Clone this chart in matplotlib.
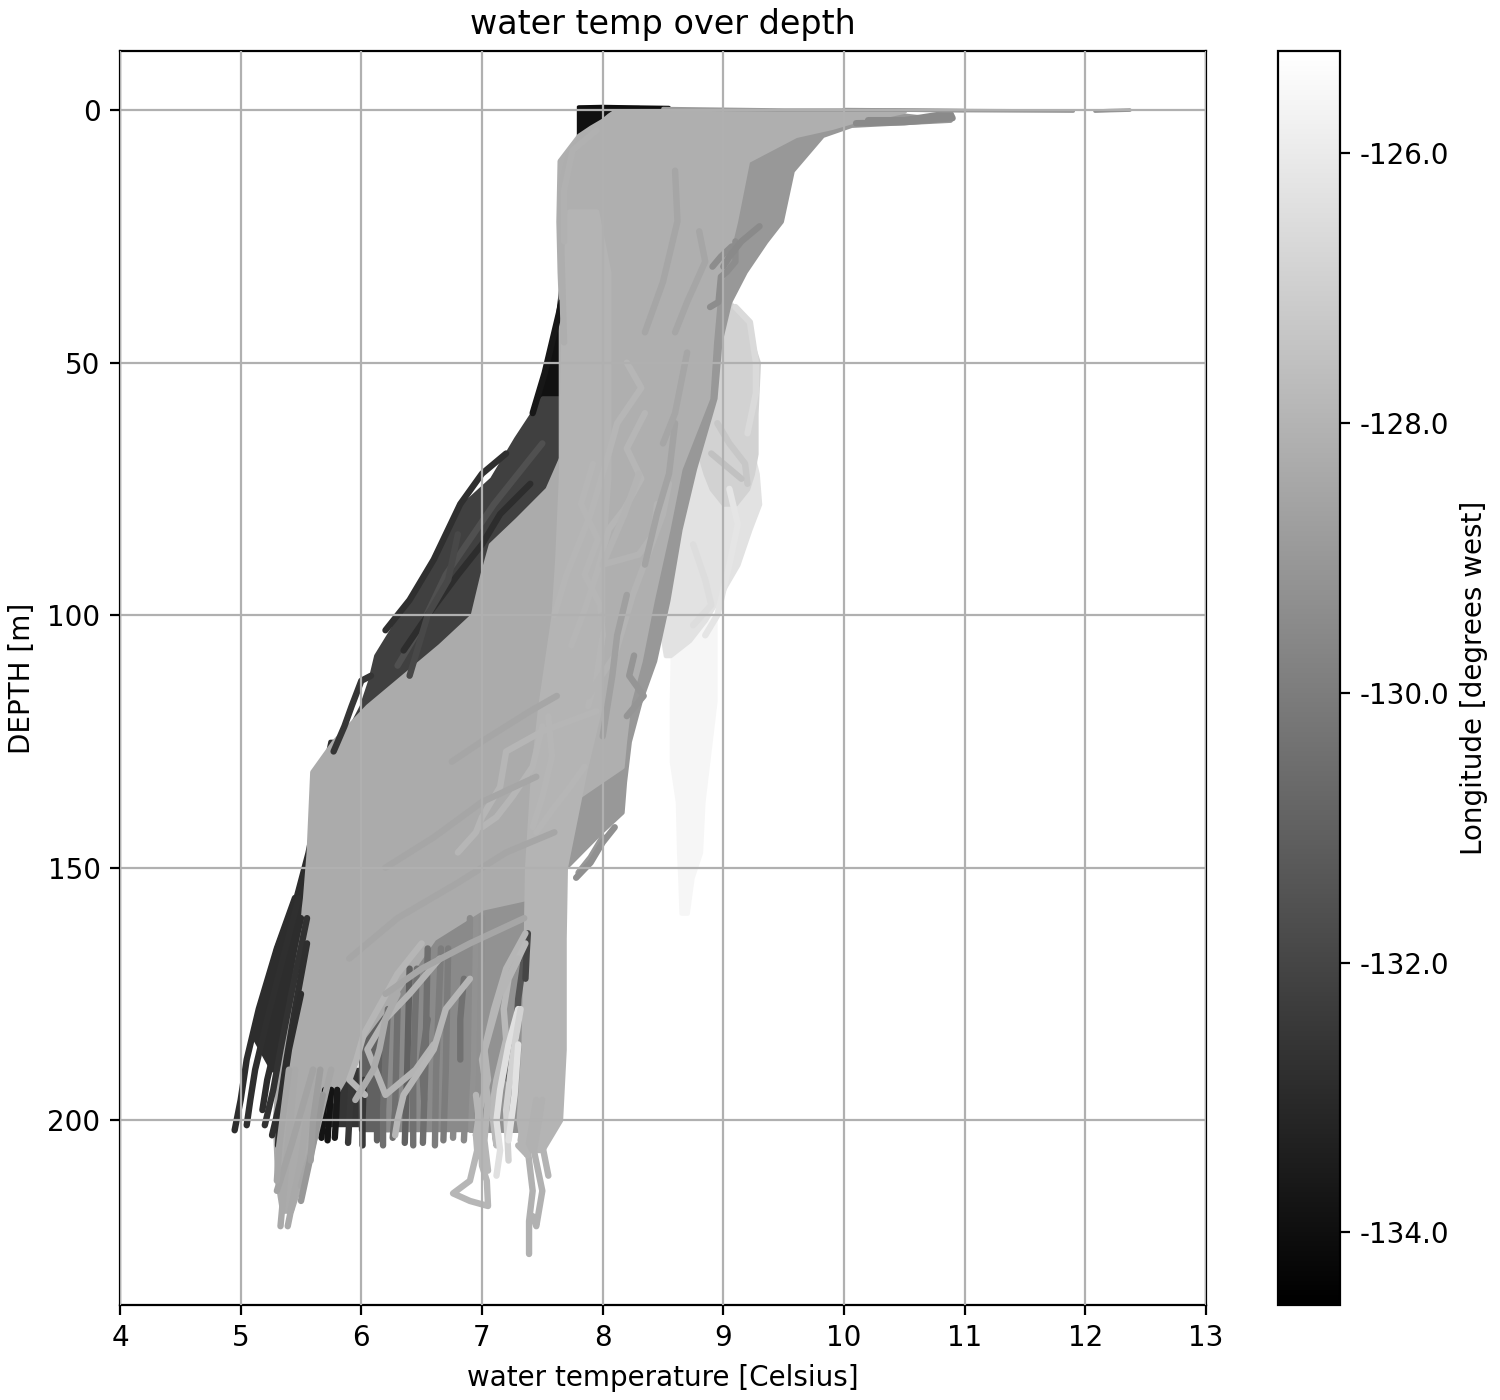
import matplotlib
matplotlib.use("Agg")
import matplotlib.pyplot as plt
from matplotlib.colors import Normalize
from matplotlib.cm import ScalarMappable

title = "water temp over depth"
xlabel = "water temperature [Celsius]"
ylabel = "DEPTH [m]"
cbar_label = "Longitude [degrees west]"
x_ticks = [4, 5, 6, 7, 8, 9, 10, 11, 12, 13]
y_ticks = [0, 50, 100, 150, 200]
cbar_ticks = [-134.0, -132.0, -130.0, -128.0, -126.0]
lon_min, lon_max = -134.54, -125.24

# Envelope of groups of casts: (longitude, depth, coldest temp, warmest temp)
far_east = (-125.6, [100, 105, 117, 129, 137, 147, 152, 159],
            [8.6, 8.58, 8.57, 8.57, 8.62, 8.63, 8.64, 8.65],
            [8.93, 8.93, 8.93, 8.87, 8.83, 8.81, 8.74, 8.70])
east_b = (-126.3, [62, 68, 72, 78, 83, 90, 97, 101, 105, 108],
          [8.9, 8.8, 8.7, 8.6, 8.55, 8.5, 8.5, 8.5, 8.5, 8.52],
          [9.05, 9.24, 9.28, 9.30, 9.22, 9.12, 8.95, 8.85, 8.72, 8.56])
east_c = (-126.9, [38, 42, 50, 60, 68, 72, 75, 78],
          [8.85, 8.85, 8.85, 8.8, 8.8, 8.85, 8.9, 9.0],
          [9.05, 9.18, 9.29, 9.27, 9.27, 9.24, 9.2, 9.1])
top_black = (-133.9, [-0.5, 8, 26, 34, 42, 50, 57, 64], [7.80, 7.80, 7.78, 7.66, 7.62, 7.55, 7.46, 7.36],
             [8.3, 8.3, 8.2, 8.0, 8.0, 8.0, 8.0, 8.0])
dark_upper = (-132.2, [57, 65, 73, 78, 89, 101, 108, 113, 118, 125, 133],
              [7.50, 7.28, 7.08, 6.85, 6.62, 6.30, 6.12, 6.07, 6.0, 5.85, 5.66],
              [7.68, 7.68, 7.68, 7.6, 7.4, 7.2, 6.8, 6.5, 6.3, 6.2, 6.0])
dark_lower = (-132.9, [125, 147, 156, 166, 176, 184, 190], [5.74, 5.55, 5.45, 5.29, 5.20, 5.12, 5.26],
              [6.0, 5.9, 5.8, 5.6, 5.42, 5.42, 5.40])
deep_a = (-132.6, [190, 196, 201], [5.62, 5.62, 5.62], [6.05, 6.05, 6.05])
deep_b = (-131.0, [178, 190, 202], [6.0, 6.0, 6.0], [6.25, 6.25, 6.25])
deep_c = (-129.5, [160, 180, 202], [6.2, 6.2, 6.2], [7.0, 7.0, 7.0])
deep_d = (-129.2, [146, 180, 202], [6.9, 6.9, 6.9], [7.42, 7.42, 7.38])
medium = (-129.0, [0.5, 2, 3, 5, 12, 22, 26, 32, 38, 46, 57, 71, 83, 97, 109, 117, 125, 133, 139, 143, 150, 153],
          [8.3, 8.3, 8.2, 8.1, 7.8, 7.7, 7.7, 7.7, 7.7, 7.7, 7.7, 7.7, 7.7, 7.6, 7.6, 7.6, 7.6, 7.6, 7.6, 7.6, 7.6, 7.6],
          [10.3, 10.88, 10.06, 9.82, 9.57, 9.48, 9.35, 9.18, 9.05, 8.97, 8.93, 8.76, 8.64, 8.54, 8.43, 8.31, 8.22, 8.18, 8.16, 7.98, 7.69, 7.60])
fan = (-128.15, [0.2, 1, 2, 3.4, 5, 10, 22, 32, 38, 46, 57, 71, 83, 97, 109, 117, 125, 130, 137],
       [8.1, 8.05, 8.0, 7.9, 7.8, 7.64, 7.63, 7.64, 7.65, 7.65, 7.65, 7.65, 7.65, 7.65, 7.65, 7.65, 7.65, 7.65, 7.65],
       [10.5, 10.35, 10.1, 9.9, 9.6, 9.2, 9.1, 9.0, 8.93, 8.9, 8.87, 8.64, 8.54, 8.41, 8.31, 8.22, 8.18, 8.16, 7.73])
fan_lower = (-128.3, [69, 75, 81, 86, 92, 100, 106, 113, 118, 125, 131, 147, 156, 158, 164, 176, 184, 191, 200, 212, 218],
             [7.65, 7.54, 7.29, 7.07, 7.00, 6.92, 6.65, 6.30, 6.05, 5.77, 5.59, 5.56, 5.53, 5.52, 5.50, 5.41, 5.35, 5.31, 5.28, 5.30, 5.34],
             [7.7, 7.7, 7.7, 7.7, 7.7, 7.7, 7.7, 7.7, 7.7, 7.7, 7.7, 7.65, 7.38, 7.0, 6.6, 6.25, 6.0, 5.88, 5.66, 5.5, 5.42])
column = (-128.0, [20, 32, 57, 73, 89, 100, 118, 131, 150, 164, 186, 200, 206],
          [7.72, 7.68, 7.66, 7.65, 7.62, 7.59, 7.48, 7.42, 7.37, 7.36, 7.34, 7.30, 7.34],
          [7.95, 8.05, 8.05, 8.05, 8.0, 8.0, 7.98, 7.85, 7.69, 7.68, 7.68, 7.65, 7.5])
bands = [far_east, east_b, east_c, top_black, dark_upper, dark_lower, deep_a, deep_b,
         deep_c, deep_d, medium, fan, fan_lower, column]

# Single casts: (longitude, temps, depths)
casts = [
    # cold dark tails
    (-132.9, [5.45, 5.3, 5.15, 5.05, 5.0, 4.95], [156, 166, 178, 188, 196, 202]),
    (-132.8, [5.48, 5.35, 5.22, 5.12, 5.08, 5.05], [156, 168, 180, 190, 196, 201]),
    (-132.9, [5.5, 5.38, 5.3, 5.22, 5.18], [160, 172, 184, 192, 198]),
    (-132.7, [5.55, 5.42, 5.33, 5.27, 5.2], [160, 175, 186, 194, 201]),
    (-132.8, [5.55, 5.45, 5.38, 5.33, 5.26], [165, 178, 188, 196, 203]),
    (-132.9, [5.5, 5.4, 5.35, 5.32, 5.31], [175, 186, 194, 200, 205]),
    (-132.6, [6.08, 6.0, 5.92, 5.86, 5.77], [112, 113, 118, 122, 127]),
    (-132.8, [7.2, 7.0, 6.82, 6.6, 6.4, 6.2], [68, 72, 78, 89, 97, 103]),
    (-131.6, [7.5, 7.3, 7.1, 6.9, 6.7, 6.5, 6.3], [66, 72, 78, 85, 92, 102, 110]),
    (-132.9, [7.4, 7.15, 7.0, 6.8, 6.55, 6.35], [74, 80, 86, 92, 100, 107]),
    (-131.9, [6.8, 6.72, 6.55, 6.4], [84, 93, 100, 112]),
    (-133.7, [7.66, 7.6, 7.52, 7.42], [38, 44, 52, 60]),
    # bottom ends of the western deep casts
    (-133.8, [5.70, 5.68, 5.67], [194, 200, 203.5]),
    (-133.8, [5.75, 5.73, 5.72], [194, 200, 204]),
    (-133.6, [5.80, 5.79, 5.78], [194, 200, 203.5]),
    (-132.5, [5.92, 5.9, 5.89], [192, 200, 204.5]),
    (-132.5, [6.02, 6.01, 6.01], [192, 200, 205]),
    (-131.0, [6.14, 6.13, 6.13], [184, 198, 204]),
    (-130.5, [6.22, 6.18, 6.18], [178, 198, 205]),
    (-130.5, [6.3, 6.28, 6.26], [178, 198, 203.5]),
    (-131.0, [6.4, 6.38, 6.36], [170, 190, 204.5]),
    (-130.4, [6.46, 6.43, 6.43], [170, 190, 205]),
    (-130.5, [6.55, 6.53, 6.51], [166, 190, 204.5]),
    (-130.0, [6.66, 6.62, 6.61], [166, 190, 205]),
    (-130.0, [6.72, 6.7, 6.68], [166, 190, 204]),
    (-129.5, [6.8, 6.78, 6.76], [166, 190, 203.5]),
    (-129.5, [6.9, 6.88, 6.85], [160, 190, 204]),
    (-129.3, [7.0, 6.98, 6.95], [160, 190, 203]),
    (-130.4, [6.85, 6.82, 6.82], [172, 180, 188]),
    (-130.5, [6.55, 6.5, 6.52], [180, 188, 196]),
    (-131.4, [7.36, 7.3, 7.28, 7.22], [166, 176, 184, 192]),
    (-132.0, [7.38, 7.37, 7.36], [163, 167, 172]),
    # cool grey tails under 200 m
    (-128.4, [5.45, 5.38, 5.33], [190, 208, 221]),
    (-128.4, [5.6, 5.5, 5.39], [190, 208, 221]),
    (-128.6, [5.6, 5.42, 5.3], [190, 205, 214]),
    (-128.5, [5.75, 5.62, 5.5], [190, 203, 213]),
    (-129.0, [5.68, 5.6, 5.5], [195, 205, 216]),
    (-128.8, [5.66, 5.6, 5.58], [190, 200, 208]),
    (-128.5, [5.4, 5.32, 5.3], [190, 205, 212]),
    # wandering casts around 7 degrees, deep end
    (-127.9, [7.36, 7.2, 7.1, 7.02, 7.05, 6.98, 6.95, 6.96, 6.9, 6.76, 6.9, 7.05, 7.04, 7.0, 6.99, 6.95],
     [163, 170, 178, 186, 192, 198, 203, 206, 212, 214.5, 216, 217, 212, 209, 203, 195]),
    (-127.8, [7.36, 7.22, 7.18, 7.2, 7.12, 7.08, 7.12, 7.1], [165, 172, 178, 184, 192, 198, 205, 200]),
    (-127.9, [7.3, 7.15, 7.0, 7.05, 7.02, 7.05], [168, 175, 188, 196, 204, 210]),
    (-126.4, [7.3, 7.22, 7.15, 7.12, 7.15, 7.12], [178, 185, 194, 200, 206, 211]),
    (-126.9, [7.32, 7.25, 7.2, 7.22], [178, 188, 198, 208]),
    (-126.3, [7.3, 7.27, 7.22], [185, 195, 204]),
    (-128.1, [7.45, 7.38, 7.42, 7.39, 7.39], [196, 206, 214, 220, 226.5]),
    (-128.1, [7.5, 7.43, 7.5, 7.45, 7.42], [196, 206, 214, 221, 219]),
    (-128.0, [7.55, 7.5, 7.55], [196, 205, 211]),
    (-128.0, [7.4, 7.36, 7.32, 7.38, 7.3], [190, 198, 204, 207, 205]),
    # light casts crossing the deep grey area
    (-127.9, [6.5, 6.3, 6.02, 5.96, 5.9, 6.03], [165, 171, 183, 188, 192, 195]),
    (-128.0, [6.65, 6.4, 6.2, 6.05, 6.2, 6.45, 6.6], [168, 175, 180, 186, 195, 190, 185]),
    (-127.9, [6.9, 6.7, 6.6, 6.35, 6.3, 6.28], [172, 178, 186, 195, 200, 203]),
    (-128.3, [6.3, 6.2, 6.15, 6.1, 5.95], [175, 180, 186, 190, 196]),
    # shaping the cold edge near the top
    (-128.2, [7.85, 7.72, 7.67, 7.65, 7.66, 7.67, 7.68], [5, 9, 14, 22, 30, 38, 46]),
    (-128.1, [7.95, 7.75, 7.68, 7.68], [4, 8, 16, 26]),
    # shallow loose ends on the warm side
    (-129.4, [9.10, 9.10, 9.03, 8.98, 8.96, 8.89], [26, 30, 32, 33, 38, 39]),
    (-129.4, [9.07, 8.98, 8.91], [27, 29, 31]),
    (-129.5, [9.3, 9.15, 9.05, 9.0], [23, 26, 29, 31]),
    (-129.5, [10.2, 10.5, 10.88, 10.9, 10.5, 10.1], [2.0, 2.0, 0.6, 1.6, 2.4, 2.6]),
    (-129.0, [8.0, 7.9, 7.8], [144, 148, 151]),
    (-129.3, [8.1, 8.0, 7.9, 7.78], [142, 145, 149, 152]),
    (-129.1, [8.26, 8.22, 8.34, 8.2], [108, 112, 116, 120]),
    # lighter wandering casts over the warm flank
    (-127.9, [7.92, 7.82, 7.96, 7.85, 7.98, 8.0, 7.95, 7.88], [70, 78, 85, 92, 98, 104, 112, 118]),
    (-127.9, [8.35, 8.2, 8.32, 8.18, 8.05, 7.96, 7.85, 7.74], [60, 67, 73, 79, 83, 91, 99, 106]),
    (-127.9, [8.2, 8.32, 8.12, 8.05, 7.9, 7.7, 7.6], [50, 55, 62, 68, 80, 92, 100]),
    (-128.0, [8.0, 7.92, 7.88, 8.1, 8.25, 8.5, 8.55], [100, 106, 116, 108, 96, 80, 74]),
    (-128.0, [8.3, 8.18, 8.0, 8.3, 8.42, 8.45], [72, 80, 90, 88, 84, 78]),
    (-127.9, [7.95, 7.5, 7.2, 7.15, 7.0, 6.95, 6.8], [119, 123, 127, 134, 140, 143, 147]),
    (-127.9, [7.5, 7.42, 7.25, 7.12, 7.0], [122, 130, 136, 140, 142]),
    (-127.9, [7.55, 7.58, 7.5, 7.42], [120, 128, 136, 142]),
    (-127.9, [7.85, 7.7, 7.6, 7.45], [130, 135, 138, 143]),
    # faint shades in the fan
    (-128.5, [7.62, 7.4, 7.0, 6.75], [116, 119, 125, 129]),
    (-128.5, [7.45, 7.0, 6.6, 6.2], [132, 137, 144, 150]),
    (-128.5, [7.6, 7.2, 6.8, 6.3, 5.9], [143, 147, 153, 160, 168]),
    (-128.5, [7.35, 6.9, 6.5, 6.2], [160, 165, 170, 175]),
    (-128.5, [8.6, 8.62, 8.5, 8.35], [12, 22, 34, 44]),
    (-128.5, [8.8, 8.85, 8.7, 8.6], [24, 30, 38, 44]),
    (-128.6, [8.6, 8.55, 8.45, 8.35], [62, 72, 80, 90]),
    (-128.7, [8.2, 8.12, 8.08, 8.0], [96, 104, 112, 124]),
    (-128.5, [8.7, 8.6, 8.5], [48, 60, 66]),
    # easternmost loose casts
    (-126.6, [9.1, 9.22, 9.27, 9.27, 9.2], [39, 42, 50, 56, 64]),
    (-126.2, [9.05, 9.12, 9.05, 8.95, 8.85], [75, 82, 90, 100, 104]),
    (-127.3, [8.95, 9.05, 9.18, 9.2], [62, 66, 70, 74]),
    (-127.5, [8.9, 9.0, 9.1, 9.15], [68, 70, 72, 73]),
    (-126.5, [8.75, 8.85, 8.9, 8.75], [86, 93, 98, 102]),
]

# Thin sea-surface readings: (longitude, temps, depths)
surface = [
    (-134.0, [7.8, 8.0, 8.25, 8.55], [-0.6, -0.7, -0.6, -0.5]),
    (-128.9, [8.5, 9.5, 10.4, 11.0, 11.9], [-0.3, 0.0, 0.0, 0.1, 0.2]),
    (-129.0, [10.0, 11.0], [-0.1, 0.1]),
    (-129.2, [12.08, 12.2, 12.37], [0.2, 0.1, 0.0]),
]

norm = Normalize(lon_min, lon_max)
cmap = plt.get_cmap("gray")

fig = plt.figure(figsize=(7.5, 7.0), dpi=200)
ax = fig.add_axes([120 / 1500, 1 - 1305 / 1400, 1086 / 1500, 1254 / 1400])
cax = fig.add_axes([1278 / 1500, 1 - 1305 / 1400, 62 / 1500, 1254 / 1400])

for lon, depth, cold, warm in bands:
    ax.fill_betweenx(depth, cold, warm, color=cmap(norm(lon)), lw=1.6, joinstyle="round", zorder=1)
for lon, temps, depths in casts:
    ax.plot(temps, depths, color=cmap(norm(lon)), lw=2.3, solid_capstyle="round",
            solid_joinstyle="round", zorder=2)
for lon, temps, depths in surface:
    ax.plot(temps, depths, color=cmap(norm(lon)), lw=1.3, solid_capstyle="round", zorder=2)

ax.set_xlim(4, 13)
ax.set_ylim(236.6, -11.7)
ax.set_xticks(x_ticks)
ax.set_yticks(y_ticks)
ax.grid(True)
ax.set_axisbelow(False)
ax.set_title(title)
ax.set_xlabel(xlabel)
ax.set_ylabel(ylabel)

cb = fig.colorbar(ScalarMappable(norm=norm, cmap=cmap), cax=cax, ticks=cbar_ticks, format="%.1f")
cb.set_label(cbar_label)

fig.savefig("out.png", dpi=200)
